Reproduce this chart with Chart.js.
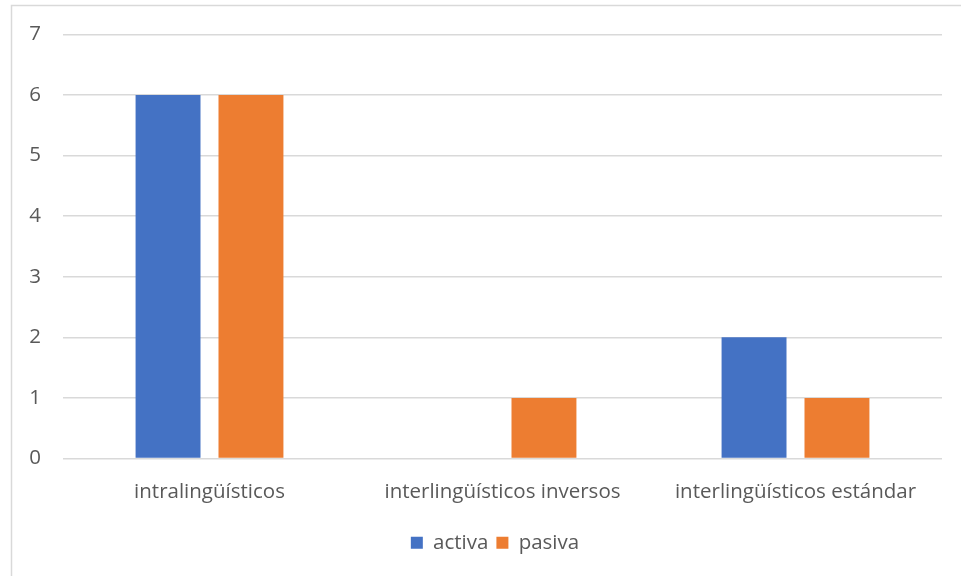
<!DOCTYPE html>
<html>
<head>
<meta charset="utf-8">
<script src="https://cdn.jsdelivr.net/npm/chart.js@4/dist/chart.umd.min.js"></script>
<style>
  html, body { margin: 0; padding: 0; background: #fff; }
  #wrap { width: 961px; height: 576px; position: relative; }
</style>
</head>
<body>
<div id="wrap"><canvas id="chart"></canvas></div>
<script>
const categories = ['intralingüísticos', 'interlingüísticos inversos', 'interlingüísticos estándar'];
const activa = [6, 0, 2];
const pasiva = [6, 1, 1];
const yTicks = [0, 1, 2, 3, 4, 5, 6, 7];

const textColor = '#595959';
const gridColor = '#D9D9D9';
const labelFont = { family: '"Open Sans", sans-serif', size: 20.5 };

// light frame around the whole chart, legend centred under the plot
const frame = {
  id: 'frame',
  afterLayout(chart) {
    chart.legend.left += 24;
    chart.legend.right += 24;
  },
  beforeDraw(chart) {
    const c = chart.ctx;
    c.save();
    c.fillStyle = '#fff';
    c.fillRect(0, 0, chart.width, chart.height);
    c.strokeStyle = gridColor;
    c.lineWidth = 1.5;
    c.strokeRect(11.5, 5.5, chart.width, chart.height);
    c.restore();
  }
};

new Chart(document.getElementById('chart'), {
  type: 'bar',
  data: {
    labels: categories,
    datasets: [
      { label: 'activa', data: activa, backgroundColor: '#4472C4' },
      { label: 'pasiva', data: pasiva, backgroundColor: '#ED7D31' }
    ]
  },
  options: {
    responsive: true,
    maintainAspectRatio: false,
    animation: false,
    categoryPercentage: 0.566,
    barPercentage: 0.783,
    layout: { padding: { left: 0, right: 19, top: 34, bottom: 13 } },
    scales: {
      x: {
        grid: { display: false },
        border: { display: false },
        ticks: { padding: 13, maxRotation: 0, autoSkip: false, color: textColor, font: labelFont },
        afterFit(scale) { scale.height = 66; }
      },
      y: {
        min: 0,
        max: 7,
        afterBuildTicks(scale) { scale.ticks = yTicks.map(v => ({ value: v })); },
        grid: { color: gridColor, lineWidth: 1.5, drawTicks: false },
        border: { display: false },
        ticks: { padding: 22, color: textColor, font: labelFont },
        afterFit(scale) { scale.width = 63; }
      }
    },
    plugins: {
      legend: {
        position: 'bottom',
        labels: { boxWidth: 12, boxHeight: 12, padding: 8, color: textColor, font: labelFont }
      },
      tooltip: { enabled: false }
    }
  },
  plugins: [frame]
});
</script>
</body>
</html>
